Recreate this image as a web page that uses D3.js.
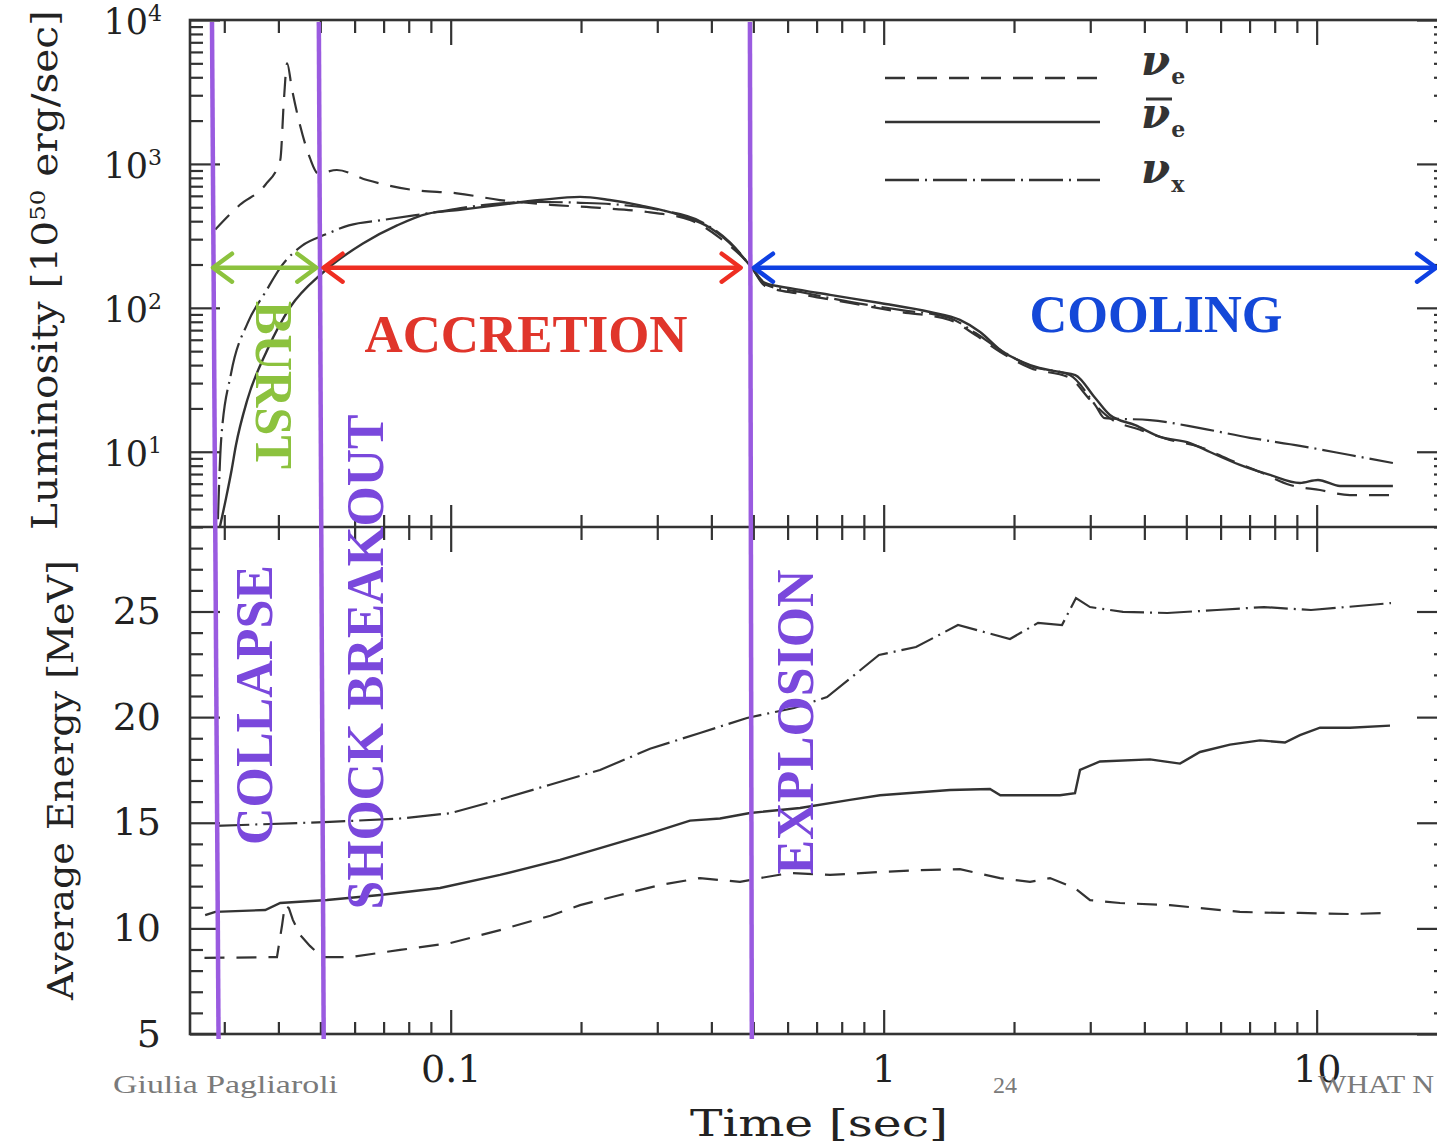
<!DOCTYPE html>
<html><head><meta charset="utf-8">
<script src="https://cdn.jsdelivr.net/npm/d3@7"></script>
<style>body{margin:0;background:#fff;} svg{display:block;}</style>
</head><body>
<svg id="chart" width="1437" height="1145"></svg>
<script>
// ---------------- data ----------------
// Luminosity [10^50 erg/s] vs time [s]
const lumNuE = [[0.0286,350],[0.0326,520],[0.0373,714],[0.0404,1064],[0.0412,2800],[0.0419,5000],[0.0430,3300],[0.0449,1850],[0.0473,1100],[0.0494,860],[0.0546,907],[0.0641,773],[0.0819,659],[0.1034,625],[0.130,561],[0.170,520],[0.221,495],[0.289,460],[0.357,408],[0.419,305],[0.496,190],[0.532,142],[0.641,125],[0.836,108],[1.091,93.6],[1.42,82.4],[1.63,64.7],[1.86,49.3],[2.18,38.2],[2.69,32.6],[3.00,22.9],[3.33,17.1],[3.91,14.2],[4.58,12.1],[5.38,10.8],[6.31,8.77],[7.40,7.23],[8.68,5.88],[10.18,5.42],[11.94,5.0],[15.0,5.0]];
const lumAntiNuE = [[0.0293,3.0],[0.0303,4.8],[0.0312,7.5],[0.0319,11],[0.0339,22.9],[0.0377,51],[0.0426,101],[0.0507,176],[0.0627,280],[0.0752,374],[0.0882,450],[0.1051,480],[0.130,520],[0.161,561],[0.199,590],[0.233,561],[0.274,515],[0.339,440],[0.397,360],[0.4535,260],[0.496,190],[0.532,149],[0.608,137],[0.752,123],[0.981,108],[1.279,93.6],[1.50,82.4],[1.67,68],[1.86,51],[2.18,40],[2.55,35.8],[2.77,34.1],[3.08,23.6],[3.33,18],[3.81,15.3],[4.35,12.7],[5.10,11.5],[5.67,9.96],[6.65,8.1],[7.80,6.9],[9.15,6.07],[10.07,6.37],[11.32,5.78],[15.0,5.78]];
const lumNuX = [[0.0290,3.4],[0.0295,12],[0.0311,35],[0.0340,79],[0.0373,128],[0.0408,198],[0.0454,271],[0.0515,324],[0.0582,374],[0.0698,408],[0.0915,460],[0.120,520],[0.157,545],[0.199,537],[0.246,520],[0.304,478],[0.3765,400],[0.4416,285],[0.496,190],[0.532,145],[0.641,129],[0.836,110],[1.091,96.7],[1.42,85],[1.63,66.8],[1.86,51],[2.18,39.5],[2.69,34.1],[3.08,21.1],[3.24,17.1],[4.12,16.6],[5.38,14.6],[7.01,12.5],[9.15,11],[11.94,9.49],[15.0,8.35]];
// Average energy [MeV] vs time [s]
const enNuE = [[0.0270,8.6],[0.0397,8.64],[0.0408,10.16],[0.0414,11.1],[0.0423,10.96],[0.0432,10.4],[0.0449,9.69],[0.0473,9.17],[0.0504,8.64],[0.0585,8.64],[0.0764,8.98],[0.0997,9.3],[0.130,9.92],[0.170,10.6],[0.199,11.1],[0.246,11.58],[0.304,12.05],[0.3765,12.38],[0.4657,12.2],[0.518,12.38],[0.608,12.62],[0.752,12.53],[0.981,12.67],[1.213,12.76],[1.50,12.8],[1.856,12.38],[2.178,12.2],[2.422,12.38],[2.766,11.9],[2.996,11.34],[3.514,11.2],[4.584,11.1],[5.377,10.96],[6.651,10.78],[8.227,10.73],[9.15,10.73],[11.94,10.68],[14.77,10.73]];
const enAntiNuE = [[0.0271,10.63],[0.0286,10.78],[0.0373,10.87],[0.0404,11.2],[0.0518,11.34],[0.0687,11.58],[0.0945,11.91],[0.130,12.53],[0.1788,13.24],[0.2213,13.8],[0.2886,14.5],[0.357,15.1],[0.4188,15.2],[0.4912,15.46],[0.641,15.7],[0.836,16.08],[0.981,16.3],[1.423,16.55],[1.760,16.6],[1.86,16.3],[2.554,16.3],[2.766,16.4],[2.841,17.5],[3.159,17.9],[4.122,18.0],[4.835,17.8],[5.377,18.35],[6.307,18.7],[7.397,18.9],[8.448,18.8],[9.15,19.15],[10.18,19.5],[11.94,19.5],[14.77,19.6]];
const enNuX = [[0.0286,14.85],[0.0526,15.04],[0.0764,15.2],[0.0997,15.45],[0.130,16.1],[0.1696,16.8],[0.2213,17.5],[0.2461,17.9],[0.2886,18.5],[0.3765,19.25],[0.4834,19.96],[0.6207,20.43],[0.7399,20.95],[0.9754,22.94],[1.1876,23.32],[1.4848,24.36],[1.9575,23.70],[2.2726,24.46],[2.5814,24.36],[2.7808,25.64],[2.996,25.21],[3.5707,24.98],[4.52,24.93],[5.886,25.07],[7.556,25.21],[9.705,25.07],[12.46,25.26],[14.85,25.40]];

const xTickValues = [0.1, 1, 10];
const xTickLabels = ["0.1", "1", "10"];
const lumTickValues = [10, 100, 1000, 10000];
const lumTickExponents = ["1", "2", "3", "4"];
const enTickValues = [5, 10, 15, 20, 25];
const enTickLabels = ["5", "10", "15", "20", "25"];

const seriesNames = ["\u03BDe", "anti-\u03BDe", "\u03BDx"];
const legendSubs = ["e", "e", "x"];

// phase events (vertical lines) and phase arrows
const eventNames = ["COLLAPSE", "SHOCK BREAKOUT", "EXPLOSION"];
const eventTimesTop = [0.0281, 0.0496, 0.491];
const eventTimesBottom = [0.0291, 0.0509, 0.496];
const phaseNames = ["BURST", "ACCRETION", "COOLING"];
const phaseFrom = [0.0281, 0.0506, 0.499];
const phaseTo = [0.0492, 0.470, 18.97];
const phaseLevel = 190;   // luminosity level of the phase arrows

// ---------------- layout ----------------
const svg = d3.select("#chart");
const L = 190, R = 1447, T = 20, M = 527, B = 1034;
const x = d3.scaleLog().domain([0.025, 20]).range([L, R]);
const yL = d3.scaleLog().domain([3, 1e4]).range([M, T]);
const yE = d3.scaleLinear().domain([5, 29]).range([B, M]);

const ink = "#333";
const defs = svg.append("defs");
defs.append("clipPath").attr("id", "clipTop").append("rect").attr("x", L).attr("y", T).attr("width", R - L).attr("height", M - T);
defs.append("clipPath").attr("id", "clipBot").append("rect").attr("x", L).attr("y", M).attr("width", R - L).attr("height", B - M);

const styles = [
  {dash: "20,12", width: 2.2},
  {dash: null, width: 2.4},
  {dash: "34,6,2,6", width: 2.2}
];

// ---------------- curves ----------------
const lumLine = d3.line().x(d => x(d[0])).y(d => yL(d[1])).curve(d3.curveMonotoneX);
const enLine = d3.line().x(d => x(d[0])).y(d => yE(d[1])).curve(d3.curveLinear);
const gTop = svg.append("g").attr("clip-path", "url(#clipTop)");
const gBot = svg.append("g").attr("clip-path", "url(#clipBot)");
[lumNuE, lumAntiNuE, lumNuX].forEach((s, i) => {
  gTop.append("path").datum(s).attr("d", lumLine).attr("fill", "none")
    .attr("stroke", ink).attr("stroke-width", styles[i].width)
    .attr("stroke-dasharray", styles[i].dash);
});
[enNuE, enAntiNuE, enNuX].forEach((s, i) => {
  gBot.append("path").datum(s).attr("d", enLine).attr("fill", "none")
    .attr("stroke", ink).attr("stroke-width", styles[i].width)
    .attr("stroke-dasharray", styles[i].dash);
});

// ---------------- axes ----------------
function minorLog(lo, hi, majors) {
  const out = [];
  for (let e = -3; e <= 5; e++) for (let k = 2; k <= 9; k++) {
    const v = +(k * Math.pow(10, e)).toPrecision(6);
    if (v >= lo && v <= hi && !majors.includes(v)) out.push(v);
  }
  return out;
}
const xMinor = minorLog(0.025, 20, xTickValues);
const lumMinor = minorLog(3, 1e4, lumTickValues);
const enMinor = d3.range(6, 29).filter(v => v % 5 !== 0);

function style(g) {
  g.select(".domain").remove();
  g.selectAll("line").attr("stroke", ink).attr("stroke-width", 2.2);
  g.selectAll("text").attr("fill", "#222").style("font-family", "'DejaVu Serif', serif");
  return g;
}
// bottom
style(svg.append("g").attr("transform", `translate(0,${B})`)
  .call(d3.axisBottom(x).tickValues(xTickValues).tickSizeInner(-24).tickSizeOuter(0).tickPadding(21)
    .tickFormat((d, i) => xTickLabels[i]))).selectAll("text").style("font-size", "38px");
style(svg.append("g").attr("transform", `translate(0,${B})`)
  .call(d3.axisBottom(x).tickValues(xMinor).tickSizeInner(-12).tickSizeOuter(0).tickFormat("")));
// top
style(svg.append("g").attr("transform", `translate(0,${T})`)
  .call(d3.axisTop(x).tickValues(xTickValues).tickSizeInner(-25).tickSizeOuter(0).tickFormat("")));
style(svg.append("g").attr("transform", `translate(0,${T})`)
  .call(d3.axisTop(x).tickValues(xMinor).tickSizeInner(-13).tickSizeOuter(0).tickFormat("")));
// middle (crossing ticks)
style(svg.append("g").attr("transform", `translate(0,${M})`)
  .call(d3.axisTop(x).tickValues(xTickValues).tickSizeInner(22).tickSizeOuter(0).tickFormat("")));
style(svg.append("g").attr("transform", `translate(0,${M})`)
  .call(d3.axisBottom(x).tickValues(xTickValues).tickSizeInner(25).tickSizeOuter(0).tickFormat("")));
style(svg.append("g").attr("transform", `translate(0,${M})`)
  .call(d3.axisTop(x).tickValues(xMinor).tickSizeInner(12).tickSizeOuter(0).tickFormat("")));
style(svg.append("g").attr("transform", `translate(0,${M})`)
  .call(d3.axisBottom(x).tickValues(xMinor).tickSizeInner(13).tickSizeOuter(0).tickFormat("")));
// left upper
const lumAx = style(svg.append("g").attr("transform", `translate(${L},0)`)
  .call(d3.axisLeft(yL).tickValues(lumTickValues).tickSizeInner(-30).tickSizeOuter(0).tickPadding(28).tickFormat("")));
lumAx.selectAll(".tick text").each(function(d, i) {
  const t = d3.select(this).text(null).attr("dy", "0.38em").style("font-size", "35px");
  t.append("tspan").text("10");
  t.append("tspan").text(lumTickExponents[i]).attr("dy", "-13").style("font-size", "22px");
});
style(svg.append("g").attr("transform", `translate(${L},0)`)
  .call(d3.axisLeft(yL).tickValues(lumMinor).tickSizeInner(-13).tickSizeOuter(0).tickFormat("")));
// right upper
style(svg.append("g").attr("transform", `translate(${R},0)`)
  .call(d3.axisRight(yL).tickValues(lumTickValues).tickSizeInner(-30).tickSizeOuter(0).tickFormat("")));
style(svg.append("g").attr("transform", `translate(${R},0)`)
  .call(d3.axisRight(yL).tickValues(lumMinor).tickSizeInner(-13).tickSizeOuter(0).tickFormat("")));
// left lower
style(svg.append("g").attr("transform", `translate(${L},0)`)
  .call(d3.axisLeft(yE).tickValues(enTickValues).tickSizeInner(-30).tickSizeOuter(0).tickPadding(29)
    .tickFormat((d, i) => enTickLabels[i]))).selectAll("text").style("font-size", "38px");
style(svg.append("g").attr("transform", `translate(${L},0)`)
  .call(d3.axisLeft(yE).tickValues(enMinor).tickSizeInner(-13).tickSizeOuter(0).tickFormat("")));
// right lower
style(svg.append("g").attr("transform", `translate(${R},0)`)
  .call(d3.axisRight(yE).tickValues(enTickValues).tickSizeInner(-30).tickSizeOuter(0).tickFormat("")));
style(svg.append("g").attr("transform", `translate(${R},0)`)
  .call(d3.axisRight(yE).tickValues(enMinor).tickSizeInner(-13).tickSizeOuter(0).tickFormat("")));

// frame
const frame = svg.append("g").attr("stroke", ink).attr("stroke-width", 2.6).attr("fill", "none");
frame.append("rect").attr("x", L).attr("y", T).attr("width", R - L).attr("height", B - T);
frame.append("line").attr("x1", L).attr("x2", R).attr("y1", M).attr("y2", M);

// axis titles
const serif = "'DejaVu Serif', serif";
svg.append("text").attr("transform", "translate(57,270) rotate(-90)").attr("text-anchor", "middle")
  .attr("textLength", 520).attr("lengthAdjust", "spacingAndGlyphs")
  .style("font-family", serif).style("font-size", "35px").attr("fill", "#222")
  .call(t => { t.append("tspan").text("Luminosity [10");
               t.append("tspan").text("50").attr("dy", -12).style("font-size", "21px");
               t.append("tspan").text(" erg/sec]").attr("dy", 12); });
svg.append("text").attr("transform", "translate(73,780) rotate(-90)").attr("text-anchor", "middle")
  .attr("textLength", 440).attr("lengthAdjust", "spacingAndGlyphs")
  .style("font-family", serif).style("font-size", "36px").attr("fill", "#222").text("Average Energy [MeV]");
svg.append("text").attr("x", 819).attr("y", 1136).attr("text-anchor", "middle")
  .attr("textLength", 258).attr("lengthAdjust", "spacingAndGlyphs")
  .style("font-family", serif).style("font-size", "37px").attr("fill", "#222").text("Time [sec]");

// footer texts
const foot = svg.append("g").style("font-family", "'Liberation Serif', serif").attr("fill", "#7a7a7a");
foot.append("text").attr("x", 113).attr("y", 1093).attr("textLength", 225).attr("lengthAdjust", "spacingAndGlyphs").style("font-size", "26px").text("Giulia Pagliaroli");
foot.append("text").attr("x", 993).attr("y", 1093).style("font-size", "24px").text("24");
foot.append("text").attr("x", 1318).attr("y", 1093).attr("textLength", 116).attr("lengthAdjust", "spacingAndGlyphs").style("font-size", "26px").text("WHAT N");

// ---------------- legend ----------------
const legYs = [78, 122, 180];
const legBase = [75, 128, 183];
const leg = svg.append("g");
legYs.forEach((yy, i) => {
  leg.append("line").attr("x1", 885).attr("x2", 1100).attr("y1", yy).attr("y2", yy)
    .attr("stroke", ink).attr("stroke-width", 2.4).attr("stroke-dasharray", styles[i].dash);
  const t = leg.append("text").attr("x", 1141).attr("y", legBase[i]).attr("fill", "#333")
    .style("font-family", serif);
  t.append("tspan").text("\u03BD").style("font-style", "italic").style("font-size", "42px").style("font-weight", "bold");
  t.append("tspan").text(legendSubs[i]).attr("dx", 1).attr("dy", 9).style("font-size", "22px").style("font-weight", "bold");
});
leg.append("line").attr("x1", 1146).attr("x2", 1172).attr("y1", 99).attr("y2", 99).attr("stroke", "#333").attr("stroke-width", 3);

// ---------------- event lines ----------------
const purpleLine = "#9a5be0", purpleText = "#7a48dc";
const ev = svg.append("g");
eventNames.forEach((n, i) => {
  ev.append("line").attr("x1", x(eventTimesTop[i])).attr("x2", x(eventTimesBottom[i]))
    .attr("y1", T + 2).attr("y2", B + 5).attr("stroke", purpleLine).attr("stroke-width", 4.5);
});

// ---------------- phase arrows ----------------
const phaseColors = ["#8cc23e", "#ee2e22", "#0e40e2"];
const ay = yL(phaseLevel);
phaseNames.forEach((n, i) => {
  const x1 = x(phaseFrom[i]), x2 = x(phaseTo[i]);
  const g = svg.append("g").attr("stroke", phaseColors[i]).attr("stroke-width", 4.5).attr("fill", "none")
    .attr("stroke-linecap", "round").attr("stroke-linejoin", "round");
  g.append("line").attr("x1", x1 + 2).attr("x2", x2 - 2).attr("y1", ay).attr("y2", ay);
  g.append("path").attr("d", `M${x1 + 20},${ay - 14}L${x1 + 1},${ay}L${x1 + 20},${ay + 14}`);
  g.append("path").attr("d", `M${x2 - 20},${ay - 14}L${x2 - 1},${ay}L${x2 - 20},${ay + 14}`);
});

// ---------------- annotation texts ----------------
const ann = svg.append("g").style("font-family", "'Liberation Serif', 'Times New Roman', serif").style("font-weight", "bold").style("font-size", "52px");
function annText(tr, txt, len, col) {
  ann.append("text").attr("transform", tr).attr("text-anchor", "middle")
    .attr("textLength", len).attr("lengthAdjust", "spacingAndGlyphs").attr("fill", col).text(txt);
}
annText("translate(272,705) rotate(-90)", eventNames[0], 280, purpleText);
annText("translate(383,662) rotate(-90)", eventNames[1], 495, purpleText);
annText("translate(813,722) rotate(-90)", eventNames[2], 305, purpleText);
annText("translate(256,385) rotate(90)", phaseNames[0], 168, phaseColors[0]);
annText("translate(526,352)", phaseNames[1], 323, "#e0352b");
annText("translate(1156,332)", phaseNames[2], 253, "#1448d8");
</script>
</body></html>
